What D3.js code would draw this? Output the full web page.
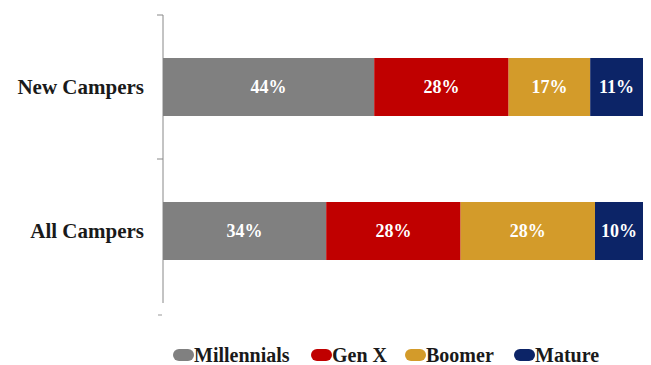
<!DOCTYPE html>
<html>
<head>
<meta charset="utf-8">
<script src="https://cdn.jsdelivr.net/npm/d3@7"></script>
<style>
  body { margin: 0; background: #fff; }
  text { font-family: "Liberation Serif", "DejaVu Serif", serif; font-weight: bold; }
</style>
</head>
<body>
<div id="chart"></div>
<script>
// data
var groups = ["New Campers", "All Campers"];
var generations = ["Millennials", "Gen X", "Boomer", "Mature"];
var newCampers = [44, 28, 17, 11];
var allCampers = [34, 28, 28, 10];
var colors = ["#808080", "#c00000", "#d39b2a", "#0c2467"];

var svgWidth = 651;
var svgHeight = 365;
var margin = { top: 15, right: 8, bottom: 62, left: 163 };
var width = svgWidth - margin.left - margin.right;
var height = svgHeight - margin.top - margin.bottom;

var svg = d3.select("#chart")
    .append("svg")
    .attr("width", svgWidth)
    .attr("height", svgHeight);

var chartGroup = svg.append("g")
    .attr("transform", `translate(${margin.left}, ${margin.top})`);

var rows = [newCampers, allCampers].map(function(vals, i) {
    var x0 = 0;
    return vals.map(function(v, j) {
        var seg = { group: groups[i], key: generations[j], value: v, x0: x0, x1: x0 + v, color: colors[j] };
        x0 += v;
        return seg;
    });
});
var segments = d3.merge(rows);

var xScale = d3.scaleLinear()
    .domain([0, 100])
    .range([0, 480]);

// y axis line with ticks between categories
var yAxis = chartGroup.append("g");
yAxis.append("line")
    .attr("x1", 0).attr("x2", 0)
    .attr("y1", 0).attr("y2", 288)
    .attr("stroke", "#888")
    .attr("stroke-width", 1);
[0, 144].forEach(function(t) {
    yAxis.append("line")
        .attr("x1", -6).attr("x2", 0)
        .attr("y1", t).attr("y2", t)
        .attr("stroke", "#888");
});
yAxis.append("line")
    .attr("x1", -5).attr("x2", -1)
    .attr("y1", 300).attr("y2", 300)
    .attr("stroke", "#999");

var yScale = d3.scalePoint()
    .domain(groups)
    .range([72, 216]);
var barH = 58;

chartGroup.selectAll("rect.seg")
    .data(segments)
    .enter()
    .append("rect")
    .attr("class", "seg")
    .attr("x", d => xScale(d.x0))
    .attr("y", d => yScale(d.group) - barH / 2)
    .attr("width", d => xScale(d.x1) - xScale(d.x0))
    .attr("height", barH)
    .attr("fill", d => d.color);

chartGroup.selectAll("text.val")
    .data(segments)
    .enter()
    .append("text")
    .attr("class", "val")
    .attr("x", d => xScale((d.x0 + d.x1) / 2))
    .attr("y", d => yScale(d.group))
    .attr("dy", "0.35em")
    .attr("text-anchor", "middle")
    .attr("fill", "#fff")
    .attr("font-size", 18)
    .text(d => d.value + "%");

chartGroup.selectAll("text.cat")
    .data(groups)
    .enter()
    .append("text")
    .attr("class", "cat")
    .attr("x", -19)
    .attr("y", d => yScale(d))
    .attr("dy", "0.35em")
    .attr("text-anchor", "end")
    .attr("fill", "#1a1a1a")
    .attr("font-size", 21)
    .text(d => d);

// legend
var legendX = [173, 311, 405, 514];
var legend = svg.append("g")
    .attr("transform", "translate(0, 355)");
var item = legend.selectAll("g")
    .data(generations)
    .enter()
    .append("g")
    .attr("transform", (d, i) => `translate(${legendX[i]}, 0)`);
item.append("rect")
    .attr("x", 0)
    .attr("y", -6)
    .attr("width", 21)
    .attr("height", 12)
    .attr("rx", 6)
    .attr("fill", (d, i) => colors[i]);
item.append("text")
    .attr("x", 21)
    .attr("dy", "0.35em")
    .attr("fill", "#1a1a1a")
    .attr("font-size", 20)
    .text(d => d);
</script>
</body>
</html>
